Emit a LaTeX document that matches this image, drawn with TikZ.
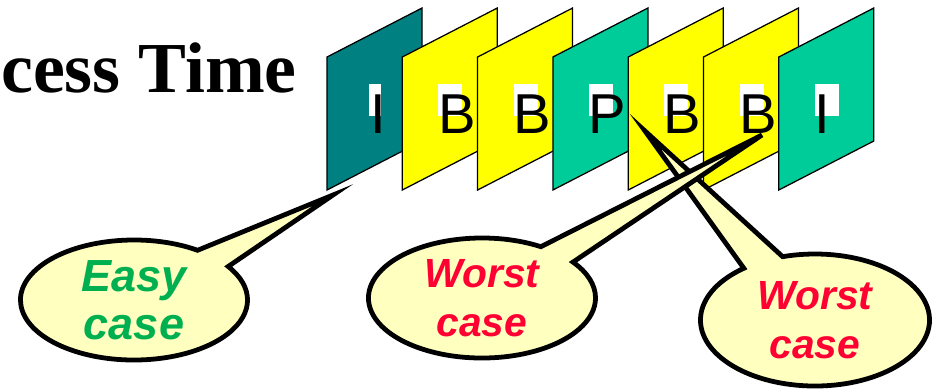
\documentclass[tikz,border=0pt]{standalone}
\usepackage{fontspec}
\setmainfont{Liberation Serif}
\setsansfont{Liberation Sans}
\usetikzlibrary{shapes.callouts,positioning}
\definecolor{frameteal}{RGB}{0,128,128}
\definecolor{frameyellow}{RGB}{255,255,0}
\definecolor{framegreen}{RGB}{0,204,153}
\definecolor{bubblefill}{RGB}{255,255,192}
\definecolor{easygreen}{RGB}{0,176,80}
\definecolor{worstred}{RGB}{255,0,51}

\begin{document}
\begin{tikzpicture}[
  x=0.025cm, y=-0.025cm,
  frm/.style={draw=black,line width=0.9pt,line join=miter},
  ltr/.style={font=\sffamily\fontsize{40}{40}\selectfont,inner sep=0pt,anchor=base},
  bubble/.style={ellipse callout,draw=black,line width=3.4pt,fill=bubblefill,callout pointer arc=22,align=center,inner sep=0pt,minimum width=5.675cm,minimum height=3.0cm},
  easy/.style={bubble,text=easygreen,font=\sffamily\bfseries\itshape\fontsize{32}{34}\selectfont},
  worst/.style={bubble,text=worstred,font=\sffamily\bfseries\itshape\fontsize{29}{35}\selectfont}
]
\useasboundingbox (0,0) rectangle (940,391);
\node[font=\bfseries\fontsize{51}{51}\selectfont,inner sep=0pt,anchor=base west] (title) at (1,92) {cess Time};
% the seven frames of the sequence
\foreach \i/\col/\ltr/\lx/\pw in {0/frameteal/I/51.5/12, 1/frameyellow/B/54.5/24, 2/frameyellow/B/54.5/24,
    3/framegreen/P/54.5/24, 4/frameyellow/B/54.5/24, 5/frameyellow/B/54.5/24, 6/framegreen/I/44/24}{
  \pgfmathsetmacro{\fx}{327+75.3*\i}
  \filldraw[frm,fill=\col] (\fx,190) -- (\fx,57) -- ++(95,-49) -- ++(0,133) -- cycle;
  \fill[white] (\fx+48-\pw/2,84) rectangle (\fx+48+\pw/2,116);
  \node[ltr] (f\i) at (\fx+\lx,133) {\ltr};
}
\coordinate (tipEasy) at (333,195);
\coordinate (tipWorstA) at (762,135);
\coordinate (tipWorstB) at (645,131);
% callouts
\node[easy,callout absolute pointer={(tipEasy)}] (easy) at (134,300) {Easy\\case};
\node[worst,minimum width=5.725cm,minimum height=3.3cm,callout absolute pointer={(tipWorstB)}] (worstB) at (815,320) {Worst\\case};
\node[worst,callout absolute pointer={(tipWorstA)}] (worstA) at (482,298) {Worst\\case};
\end{tikzpicture}
\end{document}
